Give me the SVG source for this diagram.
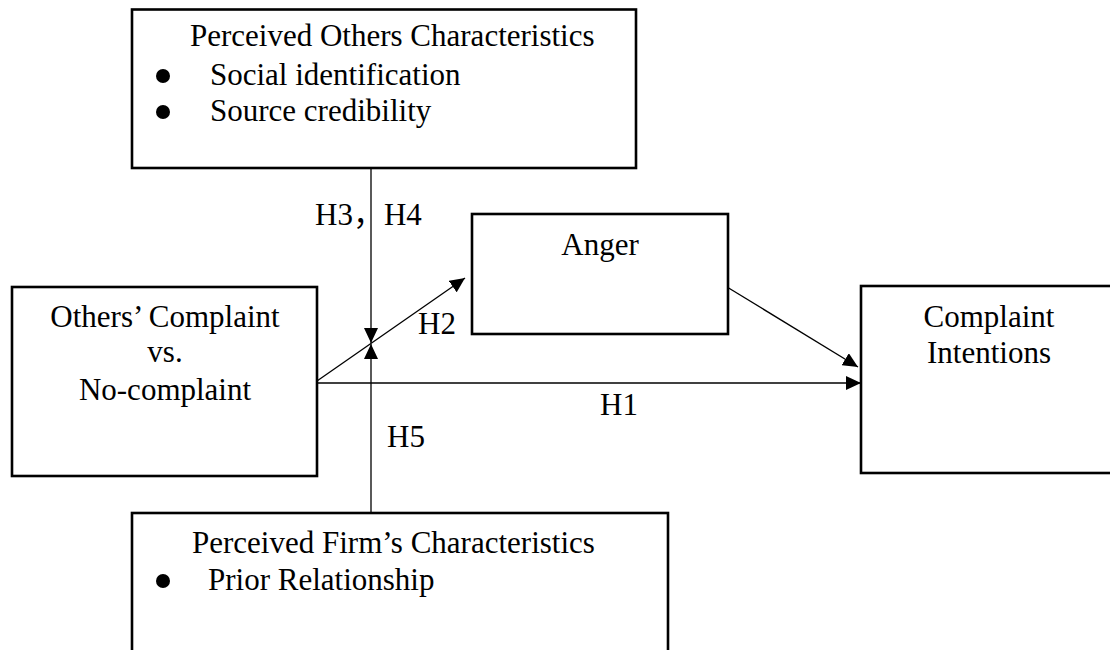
<svg xmlns="http://www.w3.org/2000/svg" width="1110" height="650" viewBox="0 0 1110 650">
<style>
.box{fill:#fff;stroke:#000;stroke-width:2.6}
.t{font-family:"Liberation Serif","Times New Roman","Noto Sans CJK SC",serif;font-size:31px;fill:#000}
.c{text-anchor:middle}
.ln{stroke:#000;stroke-width:1.3;fill:none}
</style>
<defs>
<marker id="ah" markerUnits="userSpaceOnUse" markerWidth="16" markerHeight="14" refX="15" refY="7" orient="auto">
<path d="M0,0 L15,7 L0,14 Z" fill="#000"/>
</marker>
</defs>
<rect width="1110" height="650" fill="#fff"/>
<g id="connectors">
<line class="ln" x1="371" y1="168" x2="371" y2="343" marker-end="url(#ah)"/>
<line class="ln" x1="371" y1="513" x2="371" y2="344" marker-end="url(#ah)"/>
<line class="ln" x1="317" y1="381" x2="465" y2="278" marker-end="url(#ah)"/>
<line class="ln" x1="317" y1="383" x2="861" y2="383" marker-end="url(#ah)"/>
<line class="ln" x1="727" y1="287" x2="858" y2="367" marker-end="url(#ah)"/>
<text class="t" x="315" y="225">H3<tspan font-family="Noto Sans CJK SC, sans-serif">，</tspan>H4</text>
<text class="t" x="418" y="334">H2</text>
<text class="t" x="600" y="415">H1</text>
<text class="t" x="387" y="447">H5</text>
</g>
<g id="others-characteristics">
<rect class="box" x="132" y="9.5" width="504" height="158.5"/>
<text class="t" x="190" y="46">Perceived Others Characteristics</text>
<circle cx="163" cy="76" r="7"/>
<text class="t" x="210" y="85">Social identification</text>
<circle cx="163" cy="112" r="7"/>
<text class="t" x="210" y="121">Source credibility</text>
</g>
<g id="anger">
<rect class="box" x="472" y="214" width="256" height="120"/>
<text class="t c" x="600" y="255">Anger</text>
</g>
<g id="others-complaint">
<rect class="box" x="12" y="287" width="305" height="189"/>
<text class="t c" x="165" y="327">Others’ Complaint</text>
<text class="t c" x="165" y="362">vs.</text>
<text class="t c" x="165" y="400">No-complaint</text>
</g>
<g id="complaint-intentions">
<rect class="box" x="861" y="286" width="260" height="187"/>
<text class="t c" x="989" y="327">Complaint</text>
<text class="t c" x="989" y="363">Intentions</text>
</g>
<g id="firm-characteristics">
<rect class="box" x="132" y="513" width="536" height="150"/>
<text class="t" x="192" y="553">Perceived Firm’s Characteristics</text>
<circle cx="163" cy="581" r="7"/>
<text class="t" x="208" y="590">Prior Relationship</text>
</g>
</svg>
